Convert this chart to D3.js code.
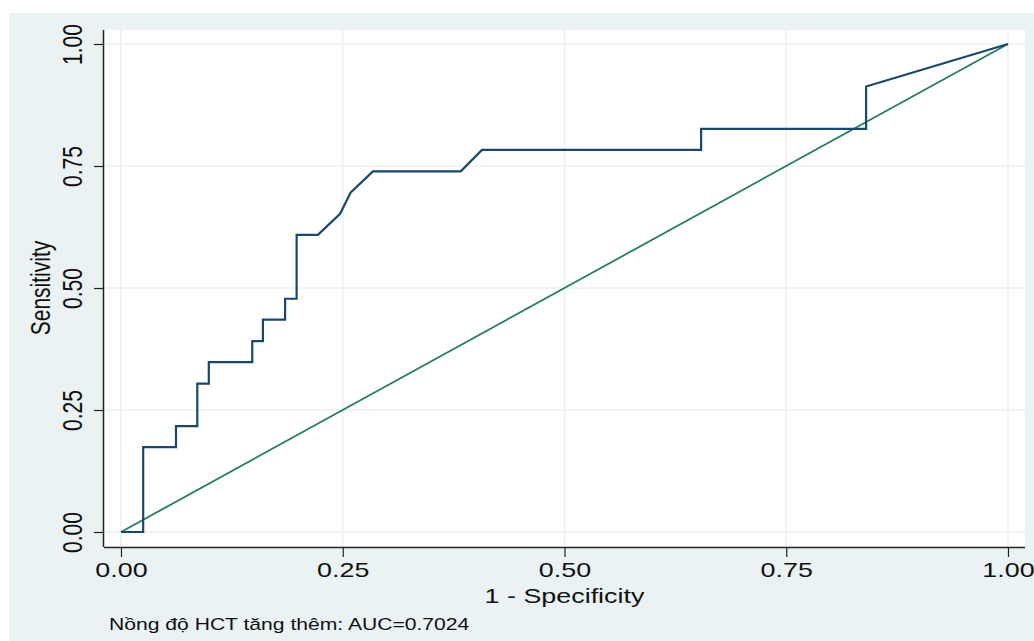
<!DOCTYPE html>
<html>
<head>
<meta charset="utf-8">
<script src="https://cdn.jsdelivr.net/npm/d3@7"></script>
<style>
  html, body { margin: 0; padding: 0; background: #ffffff; }
  svg { display: block; }
  text { font-family: "Liberation Sans", Arial, sans-serif; fill: #111; }
</style>
</head>
<body>
<svg id="chart" width="1034" height="641"></svg>
<script>
// ROC curve points (1 - Specificity, Sensitivity)
const fpr = [0, 0.025, 0.025, 0.062, 0.062, 0.086, 0.086, 0.099, 0.099, 0.148, 0.148,
             0.160, 0.160, 0.185, 0.185, 0.198, 0.198, 0.222, 0.247, 0.259, 0.284,
             0.383, 0.407, 0.654, 0.654, 0.840, 0.840, 1.0];
const sens = [0, 0, 0.174, 0.174, 0.217, 0.217, 0.304, 0.304, 0.348, 0.348, 0.391,
              0.391, 0.435, 0.435, 0.478, 0.478, 0.609, 0.609, 0.652, 0.696, 0.739,
              0.739, 0.783, 0.783, 0.826, 0.826, 0.913, 1.0];
const refX = [0, 1];
const refY = [0, 1];
const tickValues = [0, 0.25, 0.5, 0.75, 1];
const tickLabels = ["0.00", "0.25", "0.50", "0.75", "1.00"];
const xTitle = "1 - Specificity";
const yTitle = "Sensitivity";
const note = "Nồng độ HCT tăng thêm: AUC=0.7024";

const svg = d3.select("#chart");
const bg = "#eaf2f3";
const sx = 1.28;   // horizontal stretch of the original picture's text

svg.append("rect").attr("x", 9).attr("y", 13).attr("width", 1025).attr("height", 628).attr("fill", bg);

const plot = {left: 104, right: 1025, top: 30, bottom: 547};
svg.append("rect").attr("x", plot.left).attr("y", plot.top)
  .attr("width", plot.right - plot.left).attr("height", plot.bottom - plot.top).attr("fill", "#ffffff");

const x = d3.scaleLinear().domain([0, 1]).range([121, 1008]);
const y = d3.scaleLinear().domain([0, 1]).range([532, 44]);

// grid
const g = svg.append("g");
g.selectAll(".vg").data(tickValues).join("line")
  .attr("x1", d => x(d)).attr("x2", d => x(d)).attr("y1", plot.top).attr("y2", plot.bottom)
  .attr("stroke", bg).attr("stroke-width", 1.5);
g.selectAll(".hg").data(tickValues).join("line")
  .attr("y1", d => y(d)).attr("y2", d => y(d)).attr("x1", plot.left).attr("x2", plot.right)
  .attr("stroke", bg).attr("stroke-width", 1.5);

const line = d3.line().x(d => x(d[0])).y(d => y(d[1]));
svg.append("path").datum(d3.zip(refX, refY)).attr("d", line)
  .attr("fill", "none").attr("stroke", "#267d64").attr("stroke-width", 1.8);

svg.append("path").datum(d3.zip(fpr, sens)).attr("d", line)
  .attr("fill", "none").attr("stroke", "#1a476f").attr("stroke-width", 2.2)
  .attr("stroke-linejoin", "miter");

// axes
const fmt = d => tickLabels[tickValues.indexOf(d)];
const xAxis = d3.axisBottom(x).tickValues(tickValues).tickFormat(fmt).tickSize(10);
const xg = svg.append("g").attr("transform", `translate(0,${plot.bottom})`).call(xAxis);
xg.select(".domain").attr("d", `M${plot.left},0.5H${plot.right}`).attr("stroke", "#222").attr("stroke-width", 1.5);
xg.selectAll(".tick line").attr("stroke", "#222").attr("stroke-width", 1.2);
xg.selectAll(".tick text")
  .attr("font-size", 21).attr("font-family", "Liberation Sans, Arial, sans-serif").attr("fill", "#111")
  .attr("y", null).attr("dy", null).attr("text-anchor", "middle")
  .attr("transform", `translate(0,30) scale(${sx},1)`);

const yAxis = d3.axisLeft(y).tickValues(tickValues).tickFormat(fmt).tickSize(10);
const yg = svg.append("g").attr("transform", `translate(${plot.left},0)`).call(yAxis);
yg.select(".domain").attr("d", `M-0.5,${plot.top}V${plot.bottom}`).attr("stroke", "#222").attr("stroke-width", 1.5);
yg.selectAll(".tick line").attr("stroke", "#222").attr("stroke-width", 1.2);
yg.selectAll(".tick text")
  .attr("font-size", 21).attr("font-family", "Liberation Sans, Arial, sans-serif").attr("fill", "#111")
  .attr("x", null).attr("dy", null)
  .attr("text-anchor", "middle")
  .attr("transform", `translate(-22,0) scale(${sx},1) rotate(-90)`);

// titles
svg.append("text").attr("transform", `translate(${(plot.left + plot.right) / 2},603) scale(${sx},1)`)
  .attr("text-anchor", "middle").attr("font-size", 21).text(xTitle);
svg.append("text").attr("transform", `translate(50,${y(0.5)}) scale(${sx},1) rotate(-90)`)
  .attr("text-anchor", "middle").attr("font-size", 21).text(yTitle);
svg.append("text").attr("transform", `translate(109,630) scale(${sx + 0.04},1)`)
  .attr("font-size", 16).text(note);
</script>
</body>
</html>
